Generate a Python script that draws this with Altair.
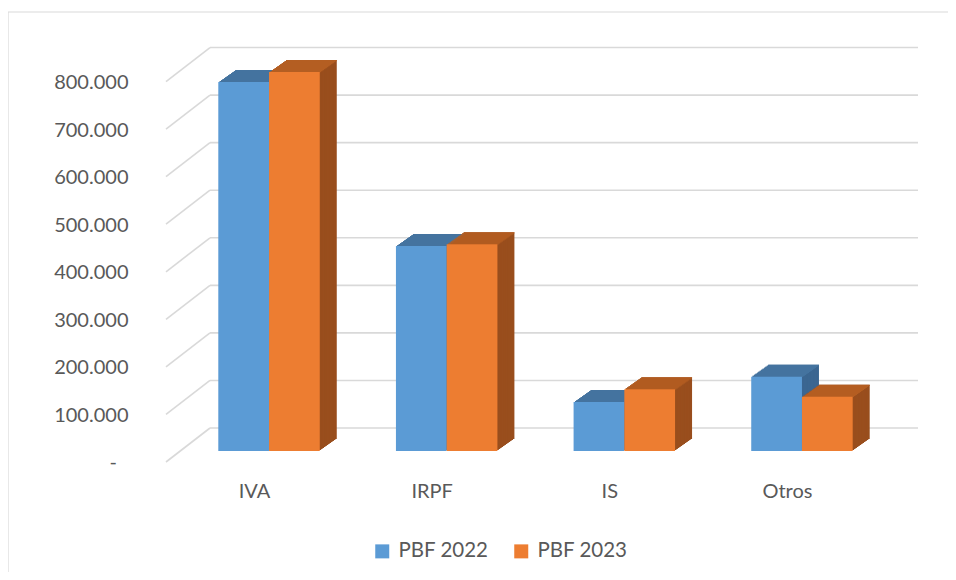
import json
import altair as alt
import pandas as pd

# ---- data ----
categorias = ["IVA", "IRPF", "IS", "Otros"]
series = ["PBF 2022", "PBF 2023"]
pbf_2022 = [776000, 431000, 103000, 156000]
pbf_2023 = [797000, 435000, 130000, 114000]
ticks = [0, 100000, 200000, 300000, 400000, 500000, 600000, 700000, 800000]

rows = []
for i, (c, a, b) in enumerate(zip(categorias, pbf_2022, pbf_2023)):
    rows.append({"cat": c, "i": i, "serie": series[0], "s": 0, "valor": a})
    rows.append({"cat": c, "i": i, "serie": series[1], "s": 1, "valor": b})
df = pd.DataFrame(rows)
df_ticks = pd.DataFrame({"t": ticks})

# ---- style ----
FONT = "Lato"
TXT = "#595959"
GRID = "#d9d9d9"
front_cols = ["#5B9BD5", "#ED7D31"]
top_cols = ["#44739F", "#B45E22"]
side_cols = ["#3B6691", "#994E1D"]

W, H = 739, 428
DEPTH_X, DEPTH_Y = 17, 12
N = 12
sx, sy = DEPTH_X / N, DEPTH_Y / N
BW = 0.2856  # width of one bar in category units

yscale = alt.Scale(domain=[0, 900000], nice=False, zero=True)
xscale = alt.Scale(domain=[-0.58, 3.58], nice=False, zero=False)

x_axis = alt.Axis(values=list(range(len(categorias))),
                  labelExpr=json.dumps(categorias) + "[datum.value]",
                  domain=False, ticks=False, grid=False, labelFont=FONT, labelFontSize=20,
                  labelColor=TXT, labelPadding=30, labelOffset=-15, labelAngle=0,
                  labelFlush=False, labelOverlap=False, title=None)
# zero label ("-") is drawn separately, slightly indented as in the accounting format
label_expr = "datum.value == 0 ? '' : replace(format(datum.value, ',d'), /,/g, '.')"
y_axis = alt.Axis(values=ticks, labelExpr=label_expr, domain=False, ticks=False,
                  grid=False, labelFont=FONT, labelFontSize=20, labelColor=TXT,
                  labelPadding=38, labelOffset=12, title=None)


def X():
    return alt.X("x0:Q", scale=xscale, axis=x_axis)


def Y(field="valor"):
    return alt.Y(f"{field}:Q", scale=yscale, axis=y_axis, stack=None)


base = alt.Chart(df).transform_calculate(
    base="0",
    x0=f"datum.i + (datum.s - 1) * {BW}",
    x1=f"datum.i + datum.s * {BW}",
)

# ---- gridlines (back wall + floor diagonals) ----
grid_back = alt.Chart(df_ticks).mark_rule(color=GRID, strokeWidth=1.6, yOffset=-23).encode(
    x=alt.value(44), x2=alt.value(752),
    y=Y("t"),
)
grid_diag = alt.Chart(df_ticks).mark_rule(
    color=GRID, strokeWidth=1.6, yOffset=11, y2Offset=-23
).encode(
    x=alt.value(0), x2=alt.value(44),
    y=Y("t"),
    y2=alt.Y2("t"),
)
zero_label = alt.Chart(df_ticks).transform_filter(alt.datum.t == 0).mark_text(
    text="-", align="right", baseline="middle", font=FONT, fontSize=20, color=TXT, dy=12
).encode(
    x=alt.value(117 - 166),
    y=Y("t"),
)

# ---- chart-area border ----
border_df = pd.DataFrame({"a": [0]})
border_v = alt.Chart(border_df).mark_rule(color=GRID, strokeWidth=1.2).encode(
    x=alt.value(-158), y=alt.value(-11), y2=alt.value(560)
)
border_h = alt.Chart(border_df).mark_rule(color=GRID, strokeWidth=1.2).encode(
    x=alt.value(-158), x2=alt.value(790), y=alt.value(-11)
)

is22 = alt.datum.s == 0

layers = [border_v, border_h, grid_back, grid_diag, zero_label]

# side faces (extruded), back to front
for i in range(N, 0, -1):
    layers.append(
        base.mark_bar(xOffset=i * sx, x2Offset=i * sx, yOffset=-i * sy, y2Offset=-i * sy).encode(
            x=X(), x2=alt.X2("x1:Q"), y=Y(), y2=alt.Y2("base:Q"),
            color=alt.condition(is22, alt.value(side_cols[0]), alt.value(side_cols[1])),
        )
    )
# top faces, back to front
for i in range(N, 0, -1):
    layers.append(
        base.mark_bar(xOffset=i * sx, x2Offset=i * sx, yOffset=-i * sy,
                      y2Offset=-(i - 1) * sy + 0.3).encode(
            x=X(), x2=alt.X2("x1:Q"), y=Y(), y2=alt.Y2("valor:Q"),
            color=alt.condition(is22, alt.value(top_cols[0]), alt.value(top_cols[1])),
        )
    )

front = base.mark_bar().encode(
    x=X(), x2=alt.X2("x1:Q"),
    y=Y(), y2=alt.Y2("base:Q"),
    color=alt.Color("serie:N", sort=series,
                    scale=alt.Scale(domain=series, range=front_cols),
                    legend=alt.Legend(title=None, orient="none", direction="horizontal",
                                      legendX=206, legendY=518, symbolType="square",
                                      symbolSize=196, symbolStrokeWidth=0,
                                      labelFont=FONT, labelFontSize=20.5, labelColor=TXT,
                                      labelOffset=6, columnPadding=22, padding=0)),
)
layers.append(front)

chart = alt.layer(*layers).properties(
    width=W, height=H,
    autosize=alt.AutoSizeParams(type="none"),
    padding={"left": 158, "top": 15, "right": 43, "bottom": 121},
    background="white",
).configure_view(stroke=None)

chart.save("out.html", embed_options={"renderer": "svg", "actions": False})
